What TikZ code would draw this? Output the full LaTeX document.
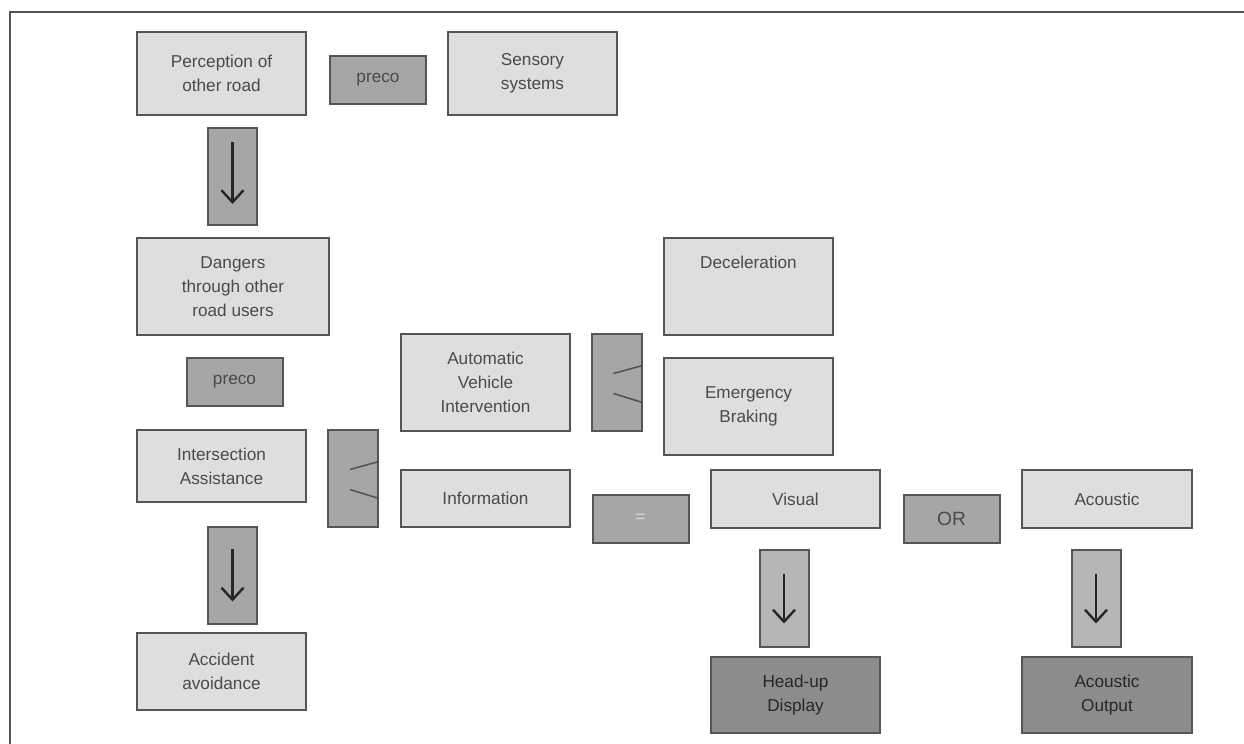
\documentclass[tikz,border=0pt]{standalone}
\usepackage{fontspec}
\setmainfont{Liberation Sans}
\usepackage{tikz}
\usetikzlibrary{arrows.meta, calc}

\definecolor{edgegray}{HTML}{555555}
\definecolor{txtgray}{HTML}{4A4A4A}
\definecolor{boxlight}{HTML}{DEDEDE}
\definecolor{boxmid}{HTML}{A6A6A6}
\definecolor{boxarr}{HTML}{B6B6B6}
\definecolor{boxdark}{HTML}{8C8C8C}

\begin{document}
\begin{tikzpicture}[
  x=0.5pt, y=-0.5pt,
  font=\fontsize{8.6}{12}\selectfont,
  every node/.style={align=center, inner sep=0pt, text=txtgray},
  lbox/.style={draw=edgegray, line width=1pt, fill=boxlight, minimum width=84.5pt},
  mbox/.style={draw=edgegray, line width=1pt, fill=boxmid,
               minimum width=48pt, minimum height=24pt},
  abox/.style={draw=edgegray, line width=1pt, fill=boxmid,
               minimum width=24.5pt, minimum height=48.5pt},
  sbox/.style={draw=edgegray, line width=1pt, fill=boxmid,
               minimum width=25pt, minimum height=48.5pt},
  dbox/.style={draw=edgegray, line width=1pt, fill=boxdark, text=black!85,
               minimum width=84.5pt, minimum height=38pt},
  arr/.style={-{Straight Barb[length=6pt,width=11pt,line width=1.2pt]},
              line width=1.1pt, black!85},
  spl/.style={line width=0.8pt, edgegray}
]
\useasboundingbox (0,0) rectangle (1244,744);
\draw[edgegray, line width=0.8pt] (1244,12) -- (10,12) -- (10,744);

\node[lbox, minimum height=41.5pt] (perc) at (221.5,73.5) {Perception of\\other road};
\node[mbox] (preco1) at (378,80) {preco};
\node[lbox, minimum height=41.5pt] (sens) at (532.5,73.5) {Sensory\\systems};
\node[abox] (down1) at (232.5,176.5) {};
\node[lbox, minimum width=96pt, minimum height=48.5pt] (dang) at (233,286.5)
  {Dangers\\through other\\road users};
\node[mbox] (preco2) at (234.5,382) {preco};
\node[lbox, minimum height=36pt] (inter) at (221.5,466) {Intersection\\Assistance};
\node[sbox] (split1) at (353,478.5) {};
\node[abox] (down2) at (232.5,575) {};
\node[lbox, minimum height=38.5pt] (accid) at (221.5,671.5) {Accident\\avoidance};

\node[lbox, minimum height=48.5pt] (auto) at (485.5,382.5) {Automatic\\Vehicle\\Intervention};
\node[sbox] (split2) at (616.5,382.5) {};
\node[lbox, minimum height=48.5pt] (decel) at (748.5,286.5) {Deceleration\\~\\~};
\node[lbox, minimum height=48.5pt] (emerg) at (748.5,406.5) {Emergency\\Braking};

\node[lbox, minimum height=28.5pt] (info) at (485.5,498.5) {Information};
\node[mbox, text=gray!30] (equal) at (640.5,518.5) {=};
\node[lbox, minimum height=29pt] (visual) at (795.5,499) {Visual};
\node[mbox, font=\fontsize{9.6}{12}\selectfont] (or) at (951.5,518.5) {OR};
\node[lbox, minimum width=85pt, minimum height=29pt] (acoust) at (1107,499) {Acoustic};
\node[abox, fill=boxarr] (down3) at (784,598) {};
\node[abox, fill=boxarr] (down4) at (1096,598) {};
\node[dbox] (hud) at (795.5,695) {Head-up\\Display};
\node[dbox, minimum width=85pt] (acout) at (1107,695) {Acoustic\\Output};

\foreach \n/\t/\b in {down1/15/22, down2/23/23, down3/25/24, down4/25/24}
  \draw[arr] ($(\n.north)+(0,\t)$) -- ($(\n.south)+(0,-\b)$);

\foreach \n in {split1, split2} {
  \draw[spl] ($(\n.center)+(-3,-9)$) -- ($(\n.east)+(0,-17)$);
  \draw[spl] ($(\n.center)+(-3,11)$) -- ($(\n.east)+(0,20)$);
}
\end{tikzpicture}
\end{document}
